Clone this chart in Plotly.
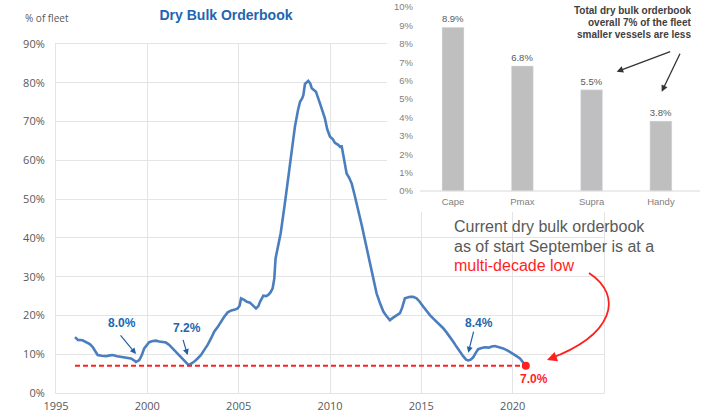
import plotly.graph_objects as go

# Dry bulk orderbook as a share of the fleet (decimal year, % of fleet)
years = [
    1996.04, 1996.20, 1996.45, 1996.64, 1996.85, 1997.00, 1997.15, 1997.28, 1997.50, 1997.74,
    1997.95, 1998.10, 1998.35, 1998.65, 1998.90, 1999.10, 1999.25, 1999.38, 1999.56, 1999.70,
    1999.83, 2000.00, 2000.10, 2000.30, 2000.47, 2000.65, 2000.84, 2001.02, 2001.20, 2001.39,
    2001.55, 2001.75, 2002.02, 2002.15, 2002.26, 2002.40, 2002.57, 2002.75, 2002.94, 2003.10,
    2003.30, 2003.50, 2003.66, 2003.85, 2004.03, 2004.20, 2004.40, 2004.60, 2004.80, 2004.94,
    2005.05, 2005.13, 2005.30, 2005.45, 2005.62, 2005.80, 2005.95, 2006.08, 2006.17, 2006.35,
    2006.50, 2006.62, 2006.75, 2006.86, 2006.95, 2007.02, 2007.15, 2007.30, 2007.53, 2007.81,
    2008.08, 2008.25, 2008.36, 2008.48, 2008.54, 2008.63, 2008.81, 2008.92, 2009.00, 2009.15,
    2009.23, 2009.45, 2009.72, 2009.85, 2010.00, 2010.15, 2010.27, 2010.45, 2010.55, 2010.64,
    2010.78, 2010.91, 2011.05, 2011.19, 2011.35, 2011.55, 2011.75, 2011.91, 2012.10, 2012.28,
    2012.42, 2012.55, 2012.75, 2012.92, 2013.10, 2013.28, 2013.42, 2013.55, 2013.70, 2013.83,
    2013.95, 2014.10, 2014.38, 2014.55, 2014.74, 2014.90, 2015.10, 2015.30, 2015.47, 2015.70,
    2015.93, 2016.05, 2016.20, 2016.40, 2016.57, 2016.75, 2016.93, 2017.10, 2017.29, 2017.45,
    2017.57, 2017.70, 2017.84, 2017.97, 2018.11, 2018.30, 2018.48, 2018.70, 2018.85, 2019.03,
    2019.25, 2019.48, 2019.70, 2019.94, 2020.15, 2020.40, 2020.55, 2020.72,
]
orderbook = [
    14.4, 13.7, 13.6, 13.2, 12.6, 11.9, 10.8, 9.8, 9.6, 9.5,
    9.7, 9.8, 9.5, 9.2, 9.1, 8.9, 8.5, 8.0, 8.5, 9.8,
    11.5, 12.6, 13.1, 13.4, 13.5, 13.3, 13.2, 13.0, 12.4, 11.5,
    10.7, 9.8, 8.5, 7.9, 7.2, 7.6, 8.1, 8.9, 9.8, 11.0,
    12.4, 14.2, 15.8, 17.0, 18.4, 19.6, 20.8, 21.3, 21.5, 21.8,
    22.5, 24.4, 24.0, 23.5, 23.3, 22.6, 21.8, 22.4, 23.5, 25.1,
    25.0, 25.3, 26.0, 27.0, 29.5, 34.7, 37.5, 41.2, 48.9, 58.4,
    68.7, 73.0, 75.1, 76.0, 76.8, 79.7, 80.5, 79.8, 78.6, 78.0,
    77.7, 74.7, 70.8, 68.0, 66.1, 65.5, 64.5, 64.0, 63.5, 63.6,
    60.0, 56.6, 55.5, 54.0, 51.0, 47.2, 43.0, 39.5, 35.5, 31.7,
    28.5, 25.7, 23.0, 21.0, 19.8, 18.8, 19.3, 19.7, 20.2, 20.6,
    22.0, 24.4, 24.8, 24.8, 24.4, 23.6, 22.3, 21.0, 20.1, 19.0,
    18.0, 17.5, 16.7, 15.5, 14.5, 13.2, 11.9, 10.6, 9.5, 8.6,
    8.4, 8.6, 9.2, 10.3, 11.3, 11.6, 11.8, 11.7, 12.0, 12.1,
    11.9, 11.5, 11.0, 10.4, 9.7, 8.9, 8.0, 7.0,
]

# Orderbook by vessel size segment (% of segment fleet)
segments = ["Cape", "Pmax", "Supra", "Handy"]
segment_orderbook = [8.9, 6.8, 5.5, 3.8]

# Cyclical lows that get a call-out label
low_years = [1999.38, 2002.26, 2017.57]

main_ticks = [1995, 2000, 2005, 2010, 2015, 2020]
main_yticks = list(range(0, 100, 10))
inset_yticks = list(range(0, 11))

# ---- page geometry (pixels) ----
W, H = 709, 412
M_L, M_R, M_T, M_B = 56, 5, 7, 19
PW = W - M_L - M_R
PH = H - M_T - M_B


def px(x):
    return (x - M_L) / PW


def py(y):
    return (H - M_B - y) / PH


# inset category scale: first bar centre and spacing, zero line and 1% step
CAT0, CAT_STEP = 453.0, 69.3
Y0, Y_STEP = 191.0, 18.4

BLUE_LINE = "#4a7ebf"
BLUE_TEXT = "#2067b0"
RED = "#ff1f1f"
GRID = "#e4e4e4"
TICK = "#595959"

fig = go.Figure()

fig.add_trace(go.Scatter(
    x=years, y=orderbook, mode="lines",
    line=dict(color=BLUE_LINE, width=2.6),
    xaxis="x", yaxis="y", showlegend=False, hoverinfo="x+y",
))

# current level carried back across the history
fig.add_trace(go.Scatter(
    x=[years[0], years[-1]], y=[orderbook[-1], orderbook[-1]], mode="lines",
    line=dict(color=RED, width=2, dash="5px,3px"),
    xaxis="x", yaxis="y", showlegend=False, hoverinfo="skip",
))
fig.add_trace(go.Scatter(
    x=[years[-1]], y=[orderbook[-1]], mode="markers",
    marker=dict(color=RED, size=8),
    xaxis="x", yaxis="y", showlegend=False, cliponaxis=False,
))

fig.add_trace(go.Bar(
    x=segments, y=segment_orderbook,
    marker=dict(color="#bfbfbf"), width=22 / CAT_STEP,
    texttemplate="%{y:.1f}%", textposition="outside", constraintext="none",
    textfont=dict(family="Liberation Sans, Arial, sans-serif", size=9.5, color=TICK),
    cliponaxis=False, xaxis="x2", yaxis="y2", showlegend=False,
))

annotations = []

# labels and arrows for the cyclical lows
label_offsets = {1999.38: (-14.3, 39), 2002.26: (-2, 37.4), 2017.57: (10.7, 37.7)}
arrow_geom = {
    1999.38: dict(xshift=0, yshift=8, ax=-16.7, ay=-20),
    2002.26: dict(xshift=-1, yshift=10, ax=-5, ay=-16.7),
    2017.57: dict(xshift=0, yshift=7.7, ax=5.7, ay=-22.7),
}
for ly in low_years:
    val = orderbook[years.index(ly)]
    dx, dy = label_offsets[ly]
    annotations.append(dict(
        x=ly, y=val, xref="x", yref="y", text=f"<b>{val:.1f}%</b>",
        showarrow=False, xshift=dx, yshift=dy,
        font=dict(family="Liberation Sans, Arial, sans-serif", size=12, color=BLUE_TEXT),
    ))
    g = arrow_geom[ly]
    annotations.append(dict(
        x=ly, y=val, xref="x", yref="y", text="", showarrow=True,
        axref="pixel", ayref="pixel", ax=g["ax"], ay=g["ay"],
        xshift=g["xshift"], yshift=g["yshift"],
        arrowhead=2, arrowsize=1, arrowwidth=1.2, arrowcolor="#1f5fa8",
    ))

# latest value
annotations.append(dict(
    x=years[-1], y=orderbook[-1], xref="x", yref="y",
    text=f"<b>{orderbook[-1]:.1f}%</b>", showarrow=False, xshift=8, yshift=-13,
    font=dict(family="Liberation Sans, Arial, sans-serif", size=12, color=RED),
))

# commentary block
comment_lines = [
    ("Current dry bulk orderbook", "#595959", 226.7),
    ("as of start September is at a", "#595959", 246.0),
    ("multi-decade low", RED, 265.0),
]
for txt, col, yc in comment_lines:
    annotations.append(dict(
        x=px(452), y=py(yc), xref="paper", yref="paper", text=txt,
        xanchor="left", yanchor="middle", showarrow=False,
        font=dict(family="Liberation Sans, Arial, sans-serif", size=16, color=col),
    ))

# inset note
note_lines = [
    ("Total dry bulk orderbook", 10.7),
    ("overall 7% of the fleet", 22.7),
    ("smaller vessels are less", 34.3),
]
for txt, yc in note_lines:
    annotations.append(dict(
        x=px(693), y=py(yc), xref="paper", yref="paper", text=f"<b>{txt}</b>",
        xanchor="right", yanchor="middle", showarrow=False,
        font=dict(family="Liberation Sans, Arial, sans-serif", size=10, color="#404040"),
    ))
for head, tail in [((616.7, 71.7), (671.7, 51.0)), ((661.7, 91.7), (680.7, 52.3))]:
    annotations.append(dict(
        x=px(head[0]), y=py(head[1]), xref="paper", yref="paper", text="",
        showarrow=True, axref="pixel", ayref="pixel",
        ax=tail[0] - head[0], ay=tail[1] - head[1],
        arrowhead=2, arrowsize=1, arrowwidth=1.3, arrowcolor="#333333",
    ))

# red curved arrow head
annotations.append(dict(
    x=px(547), y=py(360), xref="paper", yref="paper", text="", showarrow=True,
    axref="pixel", ayref="pixel", ax=9.4, ay=-3.5,
    arrowhead=2, arrowsize=1.1, arrowwidth=1.8, arrowcolor=RED,
))

# small unit label
annotations.append(dict(
    x=px(23), y=py(18), xref="paper", yref="paper", text="% of fleet",
    xanchor="left", yanchor="middle", showarrow=False,
    font=dict(family="Open Sans, sans-serif", size=10, color=TICK),
))


def pt(x, y):
    return f"{px(x):.5f},{py(y):.5f}"


shapes = [
    dict(type="path", xref="paper", yref="paper",
         path=f"M {pt(589, 273)} C {pt(624, 296)} {pt(614, 335)} {pt(549, 359)}",
         line=dict(color=RED, width=1.8)),
    dict(type="line", xref="x2", yref="y2",
         x0=(420 - CAT0) / CAT_STEP, x1=(700 - CAT0) / CAT_STEP, y0=0, y1=0,
         line=dict(color="#d9d9d9", width=1)),
]

tick_font = dict(family="Open Sans, sans-serif", size=11, color=TICK)
inset_font = dict(family="Liberation Sans, Arial, sans-serif", size=9.5, color="#7f7f7f")

fig.update_layout(
    width=W, height=H,
    margin=dict(l=M_L, r=M_R, t=M_T, b=M_B, autoexpand=False),
    paper_bgcolor="white", plot_bgcolor="white",
    title=dict(
        text="<b>Dry Bulk Orderbook</b>", x=px(226), xref="paper", xanchor="center",
        y=1 - 15 / H, yref="container", yanchor="middle",
        font=dict(family="Liberation Sans, Arial, sans-serif", size=14, color="#1f65b0"),
    ),
    xaxis=dict(
        domain=[0, px(604)], range=[1995, 2025], tickvals=main_ticks,
        ticktext=[str(t) for t in main_ticks],
        showgrid=True, gridcolor=GRID, gridwidth=1, zeroline=False,
        showline=True, mirror=True, linecolor=GRID, linewidth=1,
        tickfont=tick_font, ticks="", ticklabelstandoff=3, anchor="y",
        automargin=False,
    ),
    yaxis=dict(
        domain=[0, py(44)], range=[0, 90], tickvals=main_yticks,
        ticktext=[f"{v}%" for v in main_yticks],
        showgrid=True, gridcolor=GRID, gridwidth=1, zeroline=False,
        showline=True, mirror=True, linecolor=GRID, linewidth=1,
        tickfont=tick_font, ticks="", ticklabelstandoff=8, anchor="x",
        automargin=False,
    ),
    xaxis2=dict(
        domain=[px(387), 1], type="category",
        range=[(387 - CAT0) / CAT_STEP, (704 - CAT0) / CAT_STEP],
        anchor="free", position=py(191), showgrid=False, zeroline=False,
        showline=False, ticks="", tickfont=inset_font, ticklabelstandoff=3,
        automargin=False,
    ),
    yaxis2=dict(
        domain=[py(212), 1], range=[-(212 - Y0) / Y_STEP, (Y0 - 7) / Y_STEP],
        tickvals=inset_yticks, ticktext=[f"{v}%" for v in inset_yticks],
        anchor="free", position=px(413), showgrid=False, zeroline=False,
        showline=False, ticks="", tickfont=inset_font, automargin=False,
    ),
    annotations=annotations,
    shapes=shapes,
    bargap=0.5,
)

fig.write_html("out.html")
